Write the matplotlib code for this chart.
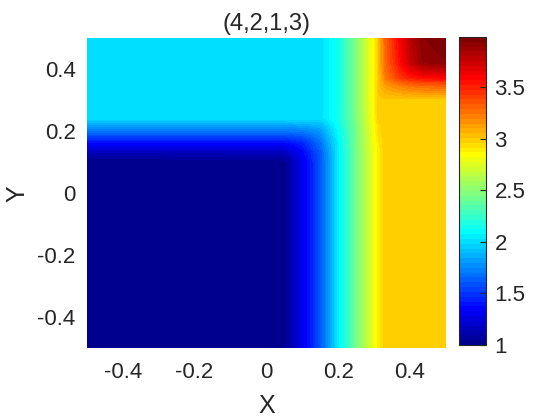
import numpy as np
import matplotlib
matplotlib.use("Agg")
import matplotlib.pyplot as plt
from matplotlib.colors import ListedColormap
from matplotlib.ticker import FormatStrFormatter

plt.rcParams['font.family'] = ['Liberation Sans', 'DejaVu Sans']
plt.rcParams['axes.unicode_minus'] = False

# grid nodes of the surface
x_nodes = [-0.5, 0.05, 0.1, 0.15, 0.2, 0.25, 0.3, 0.31, 0.33, 0.37, 0.4, 0.435, 0.5]
y_nodes = [-0.5, 0.1, 0.13, 0.16, 0.2, 0.24, 0.3, 0.345, 0.37, 0.42, 0.5]
z_grid = [
    [1.0, 1.03, 1.3, 1.6, 2.05, 2.45, 2.8, 2.88, 3.0, 3.0, 3.0, 3.0, 3.0],      # y=-0.5
    [1.0, 1.03, 1.3, 1.6, 2.05, 2.45, 2.8, 2.88, 3.0, 3.0, 3.0, 3.0, 3.0],      # y=0.1
    [1.15, 1.15, 1.35, 1.62, 2.05, 2.45, 2.8, 2.88, 3.0, 3.0, 3.0, 3.0, 3.0],   # y=0.13
    [1.37, 1.37, 1.45, 1.68, 2.06, 2.45, 2.81, 2.9, 3.0, 3.0, 3.0, 3.0, 3.0],   # y=0.16
    [1.7, 1.7, 1.72, 1.8, 2.1, 2.45, 2.83, 2.93, 3.0, 3.0, 3.0, 3.0, 3.0],      # y=0.2
    [2.0, 2.0, 2.0, 2.0, 2.15, 2.47, 2.86, 2.97, 3.0, 3.0, 3.0, 3.0, 3.0],      # y=0.24
    [2.0, 2.0, 2.0, 2.0, 2.15, 2.48, 2.87, 3.0, 3.0, 3.0, 3.0, 3.0, 3.0],       # y=0.3
    [2.0, 2.0, 2.0, 2.0, 2.15, 2.48, 2.87, 3.0, 3.12, 3.2, 3.25, 3.28, 3.3],    # y=0.345
    [2.0, 2.0, 2.0, 2.0, 2.15, 2.48, 2.87, 3.0, 3.22, 3.42, 3.5, 3.55, 3.58],   # y=0.37
    [2.0, 2.0, 2.0, 2.0, 2.15, 2.48, 2.87, 3.0, 3.28, 3.55, 3.75, 3.9, 3.94],   # y=0.42
    [2.0, 2.0, 2.0, 2.0, 2.15, 2.48, 2.87, 3.0, 3.3, 3.59, 3.79, 3.94, 3.99],   # y=0.5
]
title = "(4,2,1,3)"
x_ticks = [-0.4, -0.2, 0, 0.2, 0.4]
y_ticks = [-0.4, -0.2, 0, 0.2, 0.4]
cbar_ticks = [1, 1.5, 2, 2.5, 3, 3.5]
clim = (1.0, 3.99)


def matlab_jet(n=64):
    # same construction as matlab's jet(n)
    m = n // 4
    u = np.concatenate([np.arange(1, m + 1) / m, np.ones(m - 1), np.arange(m, 0, -1) / m])
    g = np.arange(len(u)) + (n // 2 - 3 * m // 2)
    r = g + m
    b = g - m
    J = np.zeros((n, 3))
    for col, idx in ((0, r), (1, g), (2, b)):
        ok = (idx >= 0) & (idx < n)
        J[idx[ok], col] = u[ok]
    return ListedColormap(J)


# "shading interp": interpolate data values, then look up colours
xf = np.linspace(-0.5, 0.5, 600)
yf = np.linspace(-0.5, 0.5, 600)
zx = np.array([np.interp(xf, x_nodes, row) for row in z_grid])
zf = np.array([np.interp(yf, y_nodes, zx[:, j]) for j in range(len(xf))]).T

txt = '#262626'
fig = plt.figure(figsize=(5.6, 4.2), dpi=100)
ax = fig.add_axes([0.155, 0.171, 0.641, 0.738])
im = ax.imshow(zf, origin='lower', extent=[-0.5, 0.5, -0.5, 0.5], aspect='auto',
               cmap=matlab_jet(64), vmin=clim[0], vmax=clim[1], interpolation='nearest')
ax.set_xlim(-0.5, 0.5)
ax.set_ylim(-0.5, 0.5)
ax.set_xticks(x_ticks)
ax.set_yticks(y_ticks)
ax.xaxis.set_major_formatter(FormatStrFormatter('%g'))
ax.yaxis.set_major_formatter(FormatStrFormatter('%g'))
ax.tick_params(length=0, labelsize=16, colors=txt)
ax.tick_params(axis='x', pad=10)
ax.tick_params(axis='y', pad=8)
for s in ax.spines.values():
    s.set_visible(False)
ax.set_xlabel('X', fontsize=18, color=txt, labelpad=8)
ax.set_ylabel('Y', fontsize=18, color=txt, labelpad=6)
ax.set_title(title, fontsize=17, color=txt, pad=6)

cax = fig.add_axes([0.820, 0.179, 0.048, 0.733])
cb = fig.colorbar(im, cax=cax, ticks=cbar_ticks)
cb.ax.yaxis.set_major_formatter(FormatStrFormatter('%g'))
cb.ax.tick_params(direction='in', length=4, width=0.8, labelsize=16, colors=txt, pad=6)
cb.outline.set_edgecolor(txt)
cb.outline.set_linewidth(0.8)

fig.savefig('out.png', dpi=100)
